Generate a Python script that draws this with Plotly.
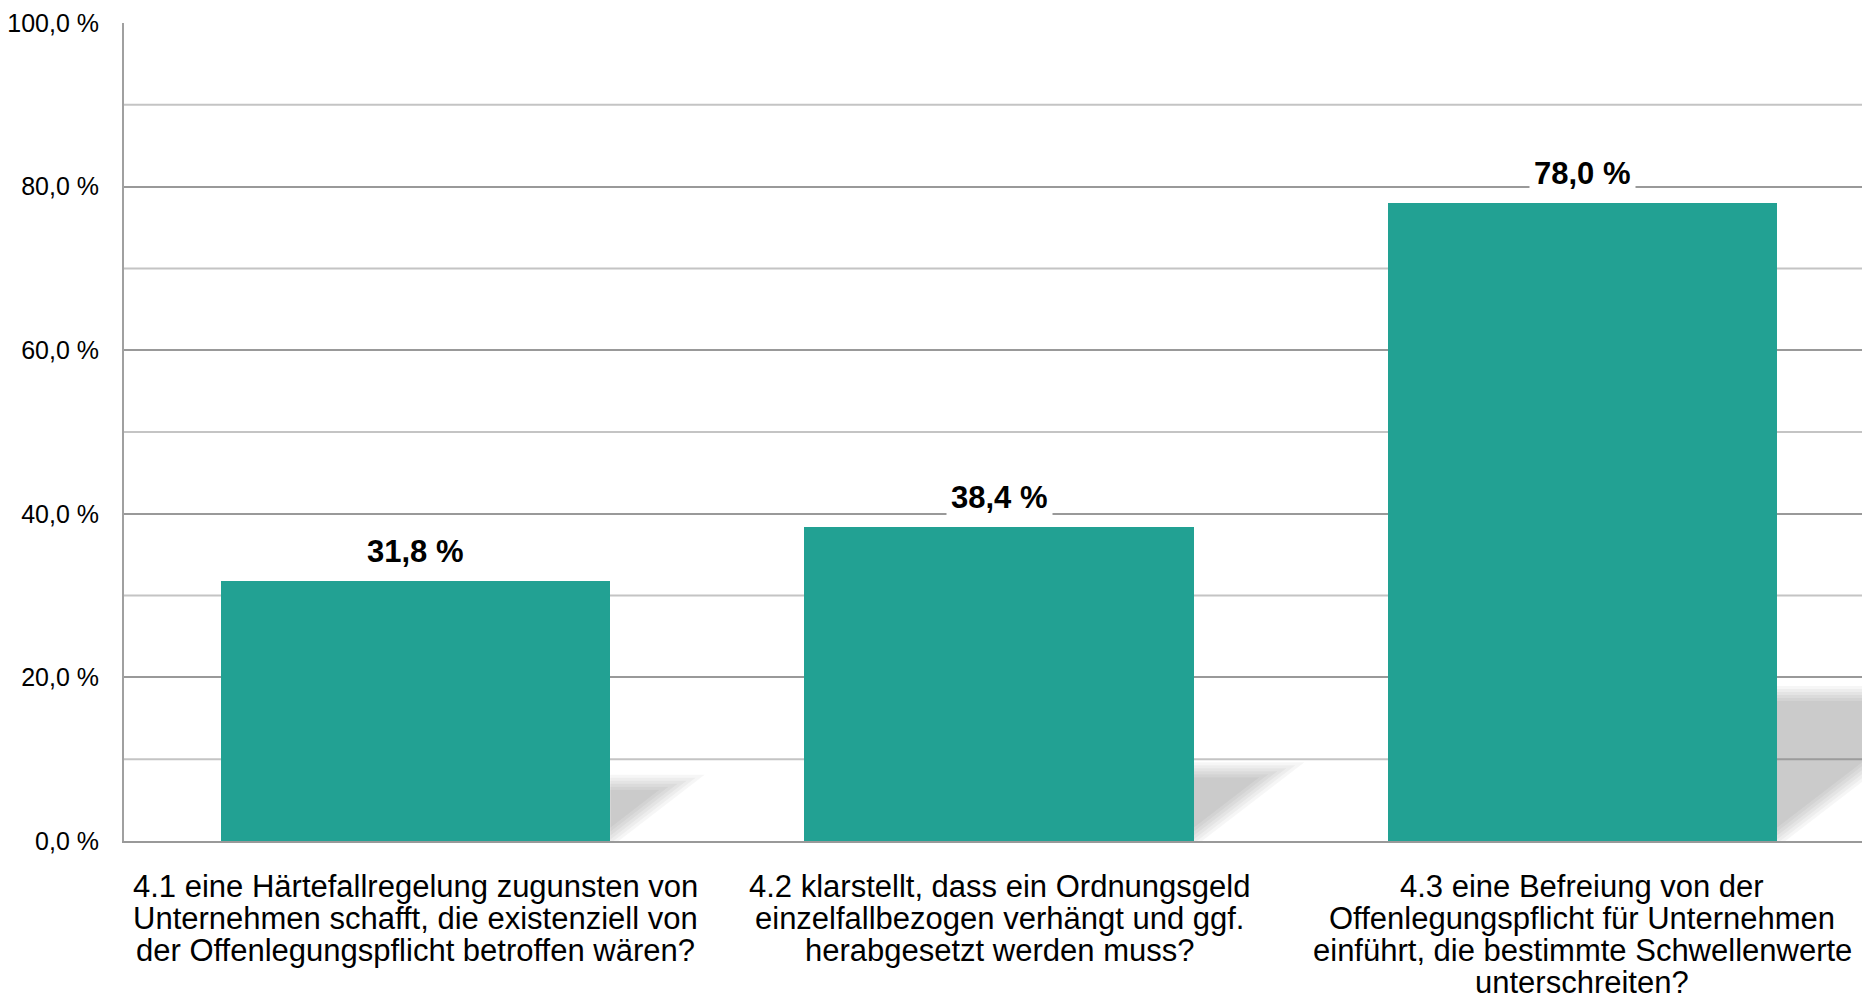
import plotly.graph_objects as go

categories = [
    "4.1 eine Härtefallregelung zugunsten von\nUnternehmen schafft, die existenziell von\nder Offenlegungspflicht betroffen wären?",
    "4.2 klarstellt, dass ein Ordnungsgeld\neinzelfallbezogen verhängt und ggf.\nherabgesetzt werden muss?",
    "4.3 eine Befreiung von der\nOffenlegungspflicht für Unternehmen\neinführt, die bestimmte Schwellenwerte\nunterschreiten?",
]
values = [31.8, 38.4, 78.0]
value_labels = ["31,8 %", "38,4 %", "78,0 %"]
y_tick_vals = [0, 20, 40, 60, 80, 100]
y_tick_text = ["0,0 %", "20,0 %", "40,0 %", "60,0 %", "80,0 %", "100,0 %"]

# the page body adds an 8 px offset; margins compensate for it
W, H = 1870, 1002
ML, MR, MT, MB = 116, 4, 15, 169
XR = [-0.5, 2.5]
YR = [0, 100]
px_per_x = (W - ML - MR) / (XR[1] - XR[0])
px_per_y = (H - MT - MB) / (YR[1] - YR[0])

BAR_W = 0.667
FONT = "Liberation Sans, Arial, sans-serif"
CAT_SIZE = 31
LINE_STEP = 32

fig = go.Figure()
fig.add_trace(go.Bar(
    x=list(range(len(values))), y=values, width=BAR_W,
    marker=dict(color="#22A193", line=dict(width=0)),
    hoverinfo="skip",
))

# soft cast shadows to the right of each bar (derived from values)
shapes = []
layers = [-10, -7, -4, -1, 2, 5]
for i, v in enumerate(values):
    x0 = i + BAR_W / 2
    h_px = 0.235 * v * px_per_y
    w_px = 1.3 * h_px
    for d in layers:
        top_px = h_px + d
        s_px = d * 1.7
        xb = x0 + s_px / px_per_x
        xt = x0 + (s_px + w_px * top_px / h_px) / px_per_x
        yt = top_px / px_per_y
        path = f"M {x0},0 L {x0},{yt} L {xt},{yt} L {xb},0 Z"
        shapes.append(dict(type="path", path=path, xref="x", yref="y",
                           fillcolor="rgba(0,0,0,0.036)", line=dict(width=0),
                           layer="below"))

# minor gridlines at odd tens
for t in [10, 30, 50, 70, 90]:
    shapes.append(dict(type="line", xref="paper", yref="y", x0=0, x1=1, y0=t, y1=t,
                       line=dict(color="#c4c4c4", width=2), layer="below"))

annotations = []
for i, (v, lab) in enumerate(zip(values, value_labels)):
    annotations.append(dict(
        x=i, y=v, xref="x", yref="y", text=f"<b>{lab}</b>", showarrow=False,
        yanchor="bottom", yshift=7, bgcolor="white", borderpad=4,
        font=dict(family=FONT, size=31, color="#000000"),
    ))

# category labels, one annotation per line for tight line spacing
for i, cat in enumerate(categories):
    for k, line in enumerate(cat.split("\n")):
        annotations.append(dict(
            x=i, y=0, xref="x", yref="y", text=line, showarrow=False,
            xanchor="center", yanchor="top", yshift=-(27 + LINE_STEP * k),
            borderpad=0, font=dict(family=FONT, size=CAT_SIZE, color="#000000"),
        ))

fig.update_layout(
    width=W, height=H,
    margin=dict(l=ML, r=MR, t=MT, b=MB, pad=0, autoexpand=False),
    paper_bgcolor="white", plot_bgcolor="white",
    showlegend=False, bargap=0,
    shapes=shapes, annotations=annotations,
    font=dict(family=FONT, color="#000000"),
)
fig.update_xaxes(
    range=XR, showticklabels=False, automargin=False,
    showgrid=False, zeroline=False, showline=True, linecolor="#999999", linewidth=2,
    ticks="",
)
fig.update_yaxes(
    range=YR, tickvals=y_tick_vals, ticktext=y_tick_text, automargin=False,
    tickfont=dict(family=FONT, size=25, color="#000000"),
    showgrid=True, gridcolor="#999999", gridwidth=2,
    zeroline=False, showline=True, linecolor="#a0a0a0", linewidth=2,
    ticks="", ticklabelstandoff=18,
)

fig.write_html("out.html")
